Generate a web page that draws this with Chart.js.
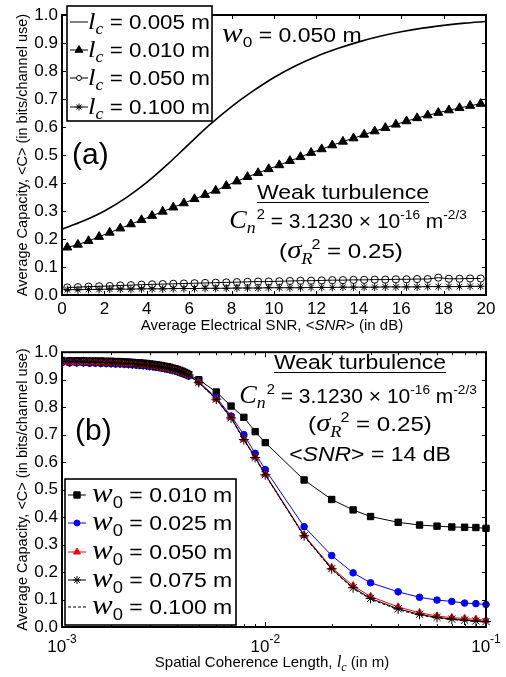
<!DOCTYPE html>
<html>
<head>
<meta charset="utf-8">
<script src="https://cdn.jsdelivr.net/npm/chart.js@4.4.0/dist/chart.umd.min.js"></script>
<style>
  html, body { margin: 0; padding: 0; background: #fff; }
  #wrap { position: relative; width: 506px; height: 677px; }
  canvas { position: absolute; left: 0; }
  #ca { top: 0; }
  #cb { top: 338px; }
</style>
</head>
<body>
<div id="wrap">
  <canvas id="ca" width="506" height="338"></canvas>
  <canvas id="cb" width="506" height="339"></canvas>
</div>
<script>
// ---- (a) capacity vs SNR, w0 = 0.050 m ----
const snrLine = [0,1,2,3,4,5,6,7,8,9,10,11,12,13,14,15,16,17,18,19,20];
const capLc005 = [0.235,0.264,0.300,0.346,0.402,0.468,0.540,0.610,0.673,0.728,0.777,0.818,0.852,0.880,0.904,0.924,0.940,0.953,0.963,0.971,0.977];
const snrMk = [0.25,0.75,1.25,1.75,2.25,2.75,3.25,3.75,4.25,4.75,5.25,5.75,6.25,6.75,7.25,7.75,8.25,8.75,9.25,9.75,
  10.25,10.75,11.25,11.75,12.25,12.75,13.25,13.75,14.25,14.75,15.25,15.75,16.25,16.75,17.25,17.75,18.25,18.75,19.25,19.75];
const capLc010 = [0.170,0.180,0.193,0.208,0.223,0.238,0.253,0.268,0.283,0.298,0.313,0.328,0.343,0.358,0.373,0.390,0.406,0.422,0.436,0.450,
  0.464,0.479,0.493,0.508,0.521,0.535,0.548,0.560,0.573,0.585,0.597,0.609,0.621,0.632,0.642,0.651,0.660,0.668,0.676,0.683];
const capLc050 = [0.027,0.028,0.030,0.031,0.032,0.034,0.035,0.037,0.038,0.039,0.040,0.041,0.042,0.043,0.044,0.045,0.046,0.047,0.048,0.048,
  0.049,0.050,0.051,0.051,0.052,0.053,0.053,0.054,0.054,0.055,0.055,0.056,0.056,0.057,0.057,0.062,0.058,0.058,0.059,0.059];
const capLc100 = [0.019,0.019,0.020,0.020,0.021,0.021,0.021,0.022,0.022,0.022,0.023,0.023,0.023,0.024,0.024,0.024,0.025,0.025,0.025,0.026,
  0.026,0.026,0.026,0.027,0.027,0.027,0.028,0.028,0.028,0.028,0.029,0.029,0.029,0.029,0.030,0.030,0.030,0.030,0.031,0.031];

// ---- (b) capacity vs lc, <SNR> = 14 dB ----
const lcB = [0.0010,0.0011,0.0012,0.0013,0.0014,0.0015,0.0016,0.0017,0.0018,0.0019,0.0020,0.0021,0.0022,0.0023,0.0024,0.0025,0.0026,0.0027,
  0.0028,0.0029,0.0030,0.0031,0.0032,0.0033,0.0034,0.0035,0.0036,0.0037,0.0038,0.0039,0.0040,0.0041,0.0042,0.0043,0.0044,0.0045,
  0.005,0.006,0.007,0.008,0.009,0.010,0.015,0.020,0.025,0.030,0.040,0.050,0.060,0.070,0.080,0.090,0.100];
const capW010 = [0.970,0.970,0.970,0.969,0.969,0.969,0.968,0.968,0.968,0.967,0.967,0.966,0.966,0.965,0.964,0.963,0.962,0.961,
  0.960,0.959,0.957,0.956,0.954,0.953,0.951,0.949,0.947,0.945,0.942,0.940,0.937,0.934,0.931,0.927,0.923,0.918,
  0.900,0.855,0.804,0.763,0.711,0.671,0.535,0.464,0.426,0.402,0.381,0.371,0.367,0.364,0.363,0.362,0.359];
const capW025 = [0.962,0.962,0.962,0.961,0.961,0.961,0.960,0.960,0.959,0.959,0.958,0.957,0.957,0.956,0.955,0.954,0.953,0.952,
  0.951,0.950,0.948,0.947,0.945,0.944,0.942,0.940,0.938,0.936,0.934,0.932,0.929,0.926,0.923,0.920,0.917,0.913,
  0.892,0.835,0.768,0.700,0.632,0.573,0.365,0.260,0.197,0.161,0.128,0.108,0.098,0.093,0.087,0.085,0.082];
const capW050 = [0.964,0.964,0.964,0.963,0.963,0.963,0.962,0.962,0.961,0.961,0.960,0.959,0.959,0.958,0.957,0.956,0.955,0.954,
  0.953,0.952,0.950,0.949,0.947,0.946,0.944,0.942,0.940,0.938,0.936,0.934,0.931,0.928,0.925,0.922,0.919,0.915,
  0.892,0.830,0.763,0.684,0.619,0.556,0.334,0.216,0.150,0.111,0.073,0.052,0.040,0.034,0.031,0.028,0.025];
const capW075 = [0.966,0.966,0.966,0.965,0.965,0.965,0.964,0.964,0.963,0.963,0.962,0.961,0.961,0.960,0.959,0.958,0.957,0.956,
  0.955,0.954,0.952,0.951,0.949,0.948,0.946,0.944,0.942,0.940,0.938,0.936,0.933,0.930,0.927,0.924,0.921,0.917,
  0.890,0.829,0.761,0.682,0.617,0.554,0.332,0.212,0.143,0.104,0.066,0.046,0.035,0.029,0.025,0.022,0.020];
const lcDash = [0.001,0.0015,0.002,0.0025,0.003,0.0035,0.004,0.0045,
  0.005,0.006,0.007,0.008,0.009,0.010,0.015,0.020,0.025,0.030,0.040,0.050,0.060,0.070,0.080,0.090,0.100];
const capW100 = [0.965,0.964,0.961,0.957,0.951,0.943,0.932,0.916,
  0.889,0.828,0.760,0.681,0.616,0.553,0.330,0.209,0.140,0.101,0.063,0.043,0.033,0.027,0.023,0.020,0.018];

const yTicks = [0,0.1,0.2,0.3,0.4,0.5,0.6,0.7,0.8,0.9,1.0];
const decades = [0.001, 0.01, 0.1];
// the original log axis starts a little above 1e-3 (its minor ticks show it)
const lcMin = 0.0012, lcMax = 0.1;

const SANS = '"Liberation Sans", Arial, Helvetica, sans-serif';
const SERIF = '"Liberation Serif", "Times New Roman", serif';
const SX = 1.15;
const sans = px => px + 'px ' + SANS;
const ital = px => 'italic ' + px + 'px ' + SERIF;
const isans = px => 'italic ' + px + 'px ' + SANS;

const pts = (xs, ys) => xs.map((x, i) => ({ x, y: ys[i] }));

// draws a run of text pieces (sub/superscripts via dy); returns left x and width
function rich(ctx, x, y, segs, align, sx) {
  sx = sx || 1;
  let w = 0;
  for (const s of segs) { ctx.font = s.f; w += (s.dx || 0) + ctx.measureText(s.t).width; }
  const x0 = align === 'center' ? x - w * sx / 2 : x;
  ctx.save();
  ctx.translate(x0, y); ctx.scale(sx, 1);
  ctx.fillStyle = '#000'; ctx.textBaseline = 'alphabetic'; ctx.textAlign = 'left';
  let cx = 0;
  for (const s of segs) {
    cx += s.dx || 0; ctx.font = s.f;
    ctx.fillText(s.t, cx, s.dy || 0);
    cx += ctx.measureText(s.t).width;
  }
  ctx.restore();
  return { x0, w: w * sx };
}

function mark(ctx, style, r, fill, stroke, x, y) {
  ctx.save();
  ctx.fillStyle = fill; ctx.strokeStyle = stroke; ctx.lineWidth = 1;
  Chart.helpers.drawPoint(ctx, { pointStyle: style, radius: r, rotation: 0, borderWidth: 1 }, x, y);
  ctx.restore();
}

function legendBox(ctx, x, y, w, h, rows, rowY, textX, sx) {
  ctx.save();
  ctx.fillStyle = '#fff'; ctx.fillRect(x, y, w, h);
  ctx.strokeStyle = '#000'; ctx.lineWidth = 1.6; ctx.strokeRect(x, y, w, h);
  rows.forEach((r, i) => {
    const cy = rowY[i];
    ctx.beginPath();
    ctx.strokeStyle = r.color; ctx.lineWidth = 1;
    ctx.setLineDash(r.dash || []);
    ctx.moveTo(x + 3, cy); ctx.lineTo(x + 21, cy); ctx.stroke();
    ctx.setLineDash([]);
    if (r.style) mark(ctx, r.style, r.r, r.fill, r.color, x + 12, cy);
    rich(ctx, textX, cy + 7, r.segs, 'left', sx);
  });
  ctx.restore();
}

function yTitle(ctx, cy) {
  ctx.save();
  ctx.translate(26.5, cy); ctx.rotate(-Math.PI / 2);
  rich(ctx, 0, 0, [{ t: 'Average Capacity, <C> (in bits/channel use)', f: sans(14.5) }], 'center');
  ctx.restore();
}

function underlined(ctx, x, y, segs) {
  const r = rich(ctx, x, y, segs, 'center', SX);
  ctx.save(); ctx.strokeStyle = '#000'; ctx.lineWidth = 1.2;
  ctx.beginPath(); ctx.moveTo(r.x0, y + 3.5); ctx.lineTo(r.x0 + r.w, y + 3.5); ctx.stroke();
  ctx.restore();
}

const cnSegs = [
  { t: 'C', f: ital(25) }, { t: 'n', f: ital(17), dy: 5 }, { t: '2', f: sans(14), dy: -9, dx: 1 },
  { t: ' = 3.1230 \u00d7 10', f: sans(20) }, { t: '-16', f: sans(13), dy: -9 },
  { t: ' m', f: sans(20) }, { t: '-2/3', f: sans(13), dy: -9 }
];
const sigSegs = [
  { t: '(', f: sans(21) }, { t: '\u03c3', f: ital(25) }, { t: 'R', f: ital(16), dy: 6 },
  { t: '2', f: sans(14), dy: -9, dx: -1 }, { t: ' = 0.25)', f: sans(21) }
];

// frame with inward ticks on all four sides, MATLAB style
const framePlugin = {
  id: 'frame',
  afterDatasetsDraw(chart) {
    const { ctx, chartArea: a, scales: { x, y } } = chart;
    ctx.save();
    ctx.strokeStyle = '#000'; ctx.lineWidth = 1;
    ctx.beginPath();
    const xt = [];
    if (x.type === 'logarithmic') {
      decades.forEach((d, k) => {
        if (d >= lcMin) xt.push([d, 5]);
        if (k < decades.length - 1) for (let m = 2; m <= 9; m++) xt.push([d * m, 3]);
      });
    } else {
      x.ticks.forEach(t => xt.push([t.value, 4]));
    }
    xt.forEach(([v, len]) => {
      const px = Math.round(x.getPixelForValue(v)) + 0.5;
      ctx.moveTo(px, a.bottom); ctx.lineTo(px, a.bottom - len);
      ctx.moveTo(px, a.top); ctx.lineTo(px, a.top + len);
    });
    yTicks.forEach(v => {
      const py = Math.round(y.getPixelForValue(v)) + 0.5;
      ctx.moveTo(a.left, py); ctx.lineTo(a.left + 4, py);
      ctx.moveTo(a.right, py); ctx.lineTo(a.right - 4, py);
    });
    ctx.stroke();
    ctx.lineWidth = 2;
    ctx.strokeRect(a.left, a.top, a.right - a.left, a.bottom - a.top);
    ctx.restore();
  }
};

const annotA = {
  id: 'annotA',
  afterDraw(chart) {
    const ctx = chart.ctx;
    yTitle(ctx, (chart.chartArea.top + chart.chartArea.bottom) / 2);
    rich(ctx, 272, 330, [
      { t: 'Average Electrical SNR, <', f: sans(15) }, { t: 'SNR', f: isans(15) }, { t: '> (in dB)', f: sans(15) }
    ], 'center');
    legendBox(ctx, 67, 6, 145, 115, [
      { color: '#000', segs: [{ t: 'l', f: ital(24) }, { t: 'c', f: ital(16), dy: 5 }, { t: ' = 0.005 m', f: sans(20) }] },
      { color: '#000', style: 'triangle', r: 4.5, fill: '#000', segs: [{ t: 'l', f: ital(24) }, { t: 'c', f: ital(16), dy: 5 }, { t: ' = 0.010 m', f: sans(20) }] },
      { color: '#000', style: 'circle', r: 2.5, fill: '#fff', segs: [{ t: 'l', f: ital(24) }, { t: 'c', f: ital(16), dy: 5 }, { t: ' = 0.050 m', f: sans(20) }] },
      { color: '#000', style: 'star', r: 3.5, fill: '#000', segs: [{ t: 'l', f: ital(24) }, { t: 'c', f: ital(16), dy: 5 }, { t: ' = 0.100 m', f: sans(20) }] }
    ], [22, 50, 78, 107], 88, 1.12);
    rich(ctx, 222, 42, [{ t: 'w', f: ital(27) }, { t: '0', f: sans(15), dy: 5 }, { t: ' = 0.050 m', f: sans(20) }], 'left', SX);
    rich(ctx, 72, 164, [{ t: '(a)', f: sans(30) }], 'left');
    underlined(ctx, 343, 199, [{ t: 'Weak turbulence', f: sans(20) }]);
    rich(ctx, 348, 228, cnSegs, 'center', 1.05);
    rich(ctx, 341, 258, sigSegs, 'center', SX);
  }
};

const annotB = {
  id: 'annotB',
  afterDraw(chart) {
    const ctx = chart.ctx, x = chart.scales.x, a = chart.chartArea, off = 338;
    yTitle(ctx, (a.top + a.bottom) / 2);
    decades.forEach(d => {
      rich(ctx, Math.max(a.left, x.getPixelForValue(d)), 652 - off, [
        { t: '10', f: sans(17) }, { t: '-' + Math.round(-Math.log10(d)), f: sans(12), dy: -9 }
      ], 'center');
    });
    rich(ctx, 272, 667 - off, [
      { t: 'Spatial Coherence Length, ', f: sans(15) }, { t: 'l', f: ital(17) },
      { t: 'c', f: ital(12), dy: 4 }, { t: ' (in m)', f: sans(15) }
    ], 'center');
    const w0 = v => [{ t: 'w', f: ital(27) }, { t: '0', f: sans(16), dy: 6 }, { t: ' = ' + v + ' m', f: sans(20) }];
    legendBox(ctx, 65, 479 - off, 171, 146, [
      { color: '#000', style: 'rect', r: 4.5, fill: '#000', segs: w0('0.010') },
      { color: '#0000ff', style: 'circle', r: 3, fill: '#0000ff', segs: w0('0.025') },
      { color: '#ff0000', style: 'triangle', r: 4, fill: '#ff0000', segs: w0('0.050') },
      { color: '#000', style: 'star', r: 4, fill: '#000', segs: w0('0.075') },
      { color: '#000', dash: [3, 2], segs: w0('0.100') }
    ], [495 - off, 523 - off, 552 - off, 580 - off, 607 - off], 92, SX);
    rich(ctx, 75, 440 - off, [{ t: '(b)', f: sans(30) }], 'left');
    underlined(ctx, 360, 369 - off, [{ t: 'Weak turbulence', f: sans(20) }]);
    rich(ctx, 358, 403 - off, cnSegs, 'center', 1.05);
    rich(ctx, 370, 431 - off, sigSegs, 'center', SX);
    rich(ctx, 370, 461 - off, [
      { t: '<', f: sans(20) }, { t: 'SNR', f: isans(20) }, { t: '> = 14 dB', f: sans(20) }
    ], 'center', SX);
  }
};

const tickFont = { family: SANS, size: 17 };
const yScale = {
  min: 0, max: 1,
  ticks: { stepSize: 0.1, color: '#000', font: tickFont, padding: 4, callback: v => v.toFixed(1) },
  grid: { display: false, drawTicks: false }, border: { display: false },
  afterFit: s => { s.width = 62; }
};
const common = {
  responsive: false, animation: false, devicePixelRatio: 1, events: [],
  plugins: { legend: { display: false }, tooltip: { enabled: false } }
};
const clipB = { left: 0, top: 10, right: 10, bottom: 10 };

new Chart(document.getElementById('ca'), {
  type: 'line',
  data: { datasets: [
    { data: pts(snrLine, capLc005), borderColor: '#000', borderWidth: 1.6, pointRadius: 0, cubicInterpolationMode: 'monotone', tension: 0.4 },
    { data: pts(snrMk, capLc010), borderColor: '#000', borderWidth: 1, pointStyle: 'triangle', pointRadius: 5.2, pointBackgroundColor: '#000', pointBorderColor: '#000', pointBorderWidth: 1 },
    { data: pts(snrMk, capLc050), borderColor: '#000', borderWidth: 1, pointStyle: 'circle', pointRadius: 3.6, pointBackgroundColor: 'rgba(0,0,0,0)', pointBorderColor: '#000', pointBorderWidth: 1 },
    { data: pts(snrMk, capLc100), borderColor: '#000', borderWidth: 1, pointStyle: 'star', pointRadius: 4, pointBorderColor: '#000', pointBorderWidth: 1 }
  ] },
  options: Object.assign({}, common, {
    layout: { padding: { top: 15, right: 20, left: 0, bottom: 0 } },
    scales: {
      x: { type: 'linear', min: 0, max: 20,
        ticks: { stepSize: 2, color: '#000', font: tickFont, padding: 4, maxRotation: 0 },
        grid: { display: false, drawTicks: false }, border: { display: false },
        afterFit: s => { s.height = 43; } },
      y: yScale
    }
  }),
  plugins: [framePlugin, annotA]
});

new Chart(document.getElementById('cb'), {
  type: 'line',
  data: { datasets: [
    { data: pts(lcB, capW010), order: 4, clip: clipB, borderColor: '#000', borderWidth: 1, pointStyle: 'rect', pointRadius: 4.5, pointBackgroundColor: '#000', pointBorderColor: '#000' },
    { data: pts(lcB, capW025), order: 3, clip: clipB, borderColor: '#0000ff', borderWidth: 1, pointStyle: 'circle', pointRadius: 3.3, pointBackgroundColor: '#0000ff', pointBorderColor: '#0000ff' },
    { data: pts(lcB, capW050), order: 2, clip: clipB, borderColor: '#ff0000', borderWidth: 1, pointStyle: 'triangle', pointRadius: 4.2, pointBackgroundColor: '#ff0000', pointBorderColor: '#ff0000' },
    { data: pts(lcB, capW075), order: 1, clip: clipB, borderColor: '#000', borderWidth: 1, pointStyle: 'star', pointRadius: 5, pointBorderColor: '#000', pointBorderWidth: 1 },
    { data: pts(lcDash, capW100), order: 0, clip: clipB, borderColor: '#000', borderWidth: 1, borderDash: [3, 2], pointRadius: 0 }
  ] },
  options: Object.assign({}, common, {
    layout: { padding: { top: 8, right: 20, left: 0, bottom: 0 } },
    scales: {
      x: { type: 'logarithmic', min: lcMin, max: lcMax,
        ticks: { display: false }, grid: { display: false, drawTicks: false }, border: { display: false },
        afterFit: s => { s.height = 50; } },
      y: yScale
    }
  }),
  plugins: [framePlugin, annotB]
});
</script>
</body>
</html>
